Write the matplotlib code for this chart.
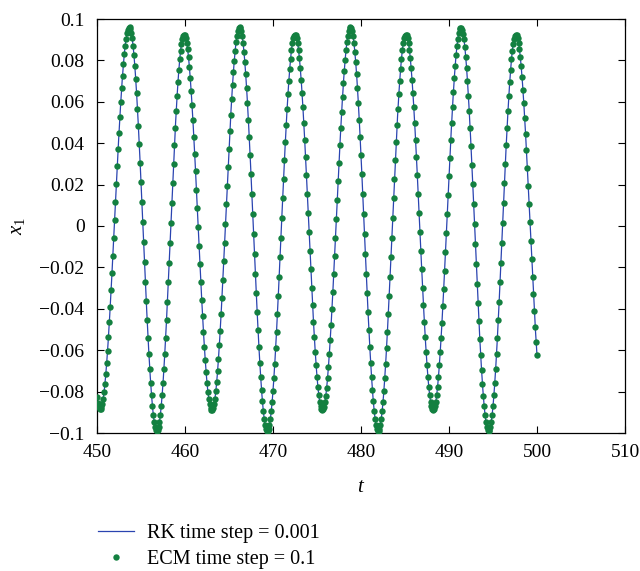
import numpy as np
import matplotlib
matplotlib.use("Agg")
import matplotlib.pyplot as plt

plt.rcParams['font.family'] = ['Liberation Serif', 'DejaVu Serif']
plt.rcParams['mathtext.fontset'] = 'custom'
plt.rcParams['mathtext.rm'] = 'Liberation Serif'
plt.rcParams['mathtext.it'] = 'Liberation Serif:italic'

# Turning points of x1(t) (time, value)
extrema_t = [447.30, 450.35, 453.67, 456.80, 459.90, 463.05, 466.20, 469.35,
             472.50, 475.60, 478.80, 481.95, 485.10, 488.20, 491.35, 494.50,
             497.60, 500.80]
extrema_x = [0.0960, -0.0885, 0.0960, -0.0990, 0.0925, -0.0890, 0.0960, -0.0990,
             0.0925, -0.0890, 0.0960, -0.0990, 0.0925, -0.0890, 0.0960, -0.0990,
             0.0925, -0.0890]

t_start, t_end = 450.0, 500.0
rk_step = 0.001
ecm_step = 0.1

x_ticks = [450, 460, 470, 480, 490, 500, 510]
y_ticks = [-0.1, -0.08, -0.06, -0.04, -0.02, 0, 0.02, 0.04, 0.06, 0.08, 0.1]
y_tick_labels = ['\u22120.1', '\u22120.08', '\u22120.06', '\u22120.04', '\u22120.02', '0',
                 '0.02', '0.04', '0.06', '0.08', '0.1']


def curve(t):
    et = np.asarray(extrema_t)
    ex = np.asarray(extrema_x)
    idx = np.clip(np.searchsorted(et, t) - 1, 0, len(et) - 2)
    t0, t1 = et[idx], et[idx + 1]
    v0, v1 = ex[idx], ex[idx + 1]
    f = (t - t0) / (t1 - t0)
    return v0 + (v1 - v0) * (1 - np.cos(np.pi * f)) / 2


t_rk = np.arange(t_start, t_end + rk_step / 2, rk_step)
t_ecm = np.arange(t_start, t_end + ecm_step / 2, ecm_step)

fig = plt.figure(figsize=(6.4, 5.71), dpi=100)
ax = fig.add_axes([97 / 640, 1 - 433 / 571, 528 / 640, 414 / 571])

ax.plot(t_rk, curve(t_rk), color='#2a44b0', lw=0.9, label='RK time step = 0.001', zorder=2)
ax.plot(t_ecm, curve(t_ecm), 'o', color='#138040', ms=4.6, mec='none',
        label='ECM time step = 0.1', zorder=3)

ax.set_xlim(450, 510)
ax.set_ylim(-0.1, 0.1)
ax.set_xticks(x_ticks)
ax.set_xticklabels([str(v) for v in x_ticks])
ax.set_yticks(y_ticks)
ax.set_yticklabels(y_tick_labels)
ax.tick_params(direction='in', top=True, right=True, length=5, width=0.8,
               labelsize=14)
ax.tick_params(axis='x', pad=8)
ax.tick_params(axis='y', pad=9)
for s in ax.spines.values():
    s.set_linewidth(0.9)

ax.set_xlabel('$t$', fontsize=15, labelpad=12)
ax.set_ylabel('$x_1$', fontsize=15, labelpad=9)

fig.legend(loc='upper left', bbox_to_anchor=(0.153, 0.083), frameon=False,
           fontsize=14.5, handlelength=1.8, handletextpad=0.65, numpoints=1,
           labelspacing=0.35, borderaxespad=0, borderpad=0)

fig.savefig('out.png', dpi=100)
